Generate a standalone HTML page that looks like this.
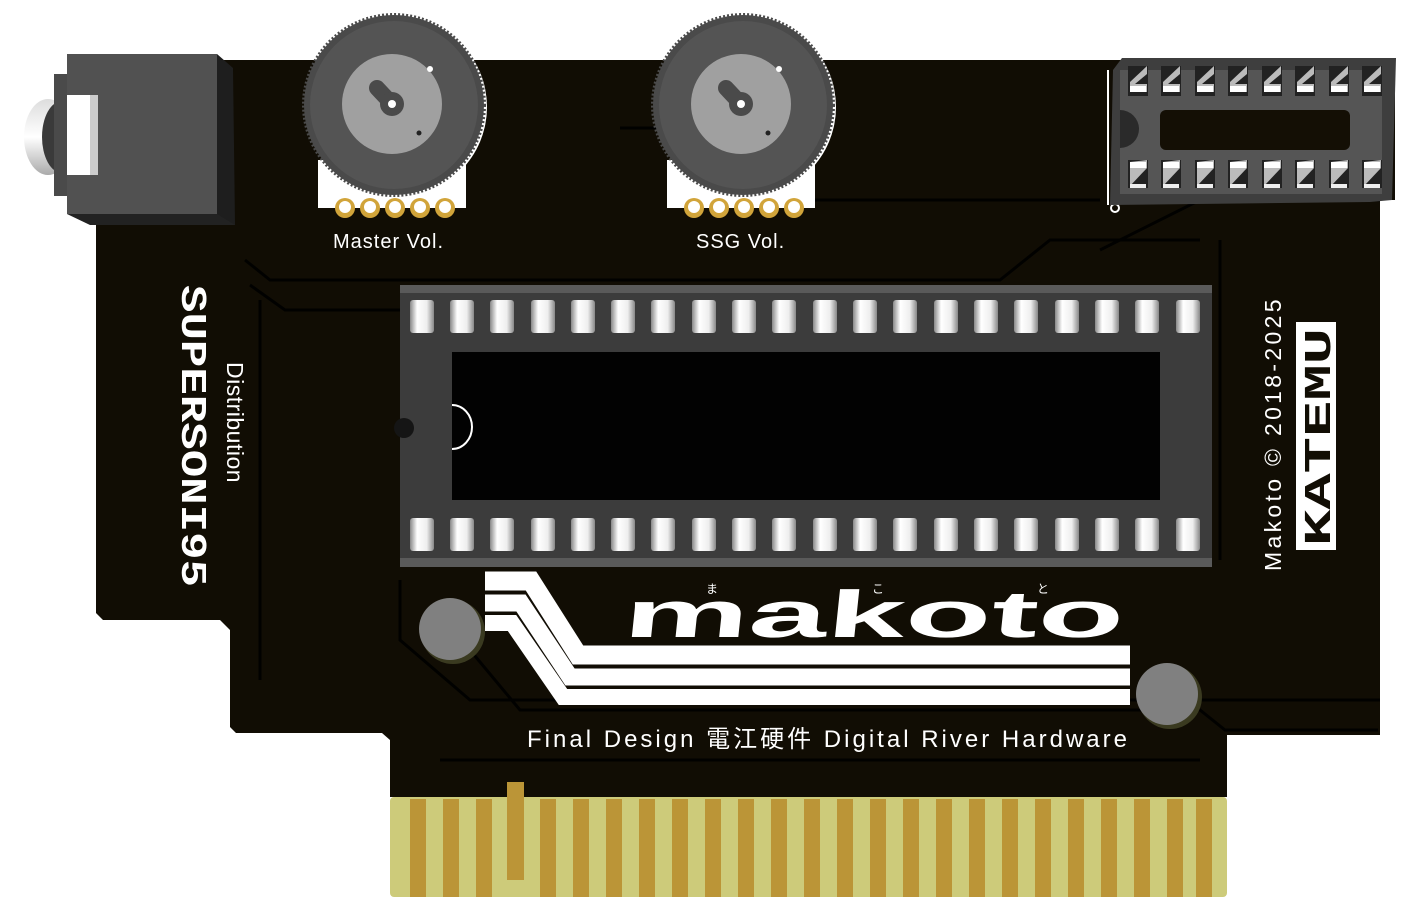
<!DOCTYPE html>
<html><head><meta charset="utf-8"><style>
html,body{margin:0;padding:0;background:#fff;width:1418px;height:915px;overflow:hidden}
svg{display:block}
</style></head><body>
<svg width="1418" height="915" viewBox="0 0 1418 915" xmlns="http://www.w3.org/2000/svg" font-family="Liberation Sans, sans-serif">
<defs>
<linearGradient id="pin" x1="0" x2="1">
<stop offset="0" stop-color="#888"/><stop offset="0.3" stop-color="#fff"/><stop offset="0.7" stop-color="#eee"/><stop offset="1" stop-color="#888"/></linearGradient>
<linearGradient id="jk" x1="0" y1="0" x2="0" y2="1"><stop offset="0" stop-color="#ddd"/><stop offset="0.5" stop-color="#fff"/><stop offset="1" stop-color="#aaa"/></linearGradient>
</defs>
<polygon fill="#110d04" points="96,60 1395,60 1395,200 1380,200 1380,735 1227,735 1227,797 390,797 390,740 382,733 236,733 230,727 230,630 220,620 103,620 96,613"/>
<g stroke="#000" stroke-width="3" fill="none" opacity="0.9">
<polyline points="250,285 285,310 900,310"/>
<polyline points="245,260 270,280 1000,280 1050,240 1200,240"/>
<polyline points="260,300 260,680"/>
<polyline points="400,580 400,640 470,700 1380,700"/>
<polyline points="470,650 520,710 1200,710 1225,730 1378,730"/>
<polyline points="620,128 700,128 780,200 1100,200"/>
<polyline points="1100,250 1200,200 1380,200"/>
<polyline points="1220,240 1220,560"/>
<polyline points="440,760 1200,760"/>
</g>
<rect x="390" y="797" width="837" height="100" fill="#cdcb7a" rx="4"/>
<g fill="#bb9537">
<rect x="410" y="799" width="16" height="98"/><rect x="443" y="799" width="16" height="98"/><rect x="476" y="799" width="16" height="98"/>
<rect x="507" y="782" width="17" height="98"/>
<rect x="540" y="799" width="16" height="98"/><rect x="573" y="799" width="16" height="98"/><rect x="606" y="799" width="16" height="98"/><rect x="639" y="799" width="16" height="98"/><rect x="672" y="799" width="16" height="98"/><rect x="705" y="799" width="16" height="98"/><rect x="738" y="799" width="16" height="98"/><rect x="771" y="799" width="16" height="98"/><rect x="804" y="799" width="16" height="98"/><rect x="837" y="799" width="16" height="98"/><rect x="870" y="799" width="16" height="98"/><rect x="903" y="799" width="16" height="98"/><rect x="936" y="799" width="16" height="98"/><rect x="969" y="799" width="16" height="98"/><rect x="1002" y="799" width="16" height="98"/><rect x="1035" y="799" width="16" height="98"/><rect x="1068" y="799" width="16" height="98"/><rect x="1101" y="799" width="16" height="98"/><rect x="1134" y="799" width="16" height="98"/><rect x="1167" y="799" width="16" height="98"/><rect x="1196" y="799" width="16" height="98"/>
</g>
<ellipse cx="48" cy="137" rx="24" ry="38" fill="url(#jk)"/>
<ellipse cx="62" cy="137" rx="20" ry="36" fill="#3a3a3a"/>
<rect x="54" y="74" width="14" height="122" fill="#4a4a4a"/>
<rect x="67" y="54" width="150" height="160" fill="#515151"/>
<polygon points="217,54 233,68 235,225 217,225" fill="#1e1e1e"/>
<polygon points="67,214 217,214 235,225 90,225" fill="#222"/>
<rect x="67" y="95" width="31" height="80" fill="#fff"/>
<rect x="90" y="95" width="8" height="80" fill="#ccc"/>
<g id="pot">
<rect x="318" y="160" width="148" height="48" fill="#fff"/>
<g fill="#d1a43a"><circle cx="345" cy="208" r="10"/><circle cx="370" cy="208" r="10"/><circle cx="395" cy="208" r="10"/><circle cx="420" cy="208" r="10"/><circle cx="445" cy="208" r="10"/></g>
<g fill="#fff"><circle cx="345" cy="207" r="6"/><circle cx="370" cy="207" r="6"/><circle cx="395" cy="207" r="6"/><circle cx="420" cy="207" r="6"/><circle cx="445" cy="207" r="6"/></g>
<circle cx="397" cy="107" r="90" fill="#fff"/>
<circle cx="394" cy="105" r="90" fill="#4a4a4a" stroke="#4a4a4a" stroke-width="4" stroke-dasharray="2 2"/>
<circle cx="394" cy="105" r="84" fill="#545454"/>
<circle cx="392" cy="104" r="50" fill="#a0a0a0"/>
<line x1="377" y1="88" x2="392" y2="104" stroke="#4a4a4a" stroke-width="16" stroke-linecap="round"/>
<circle cx="392" cy="104" r="12" fill="#4a4a4a"/>
<circle cx="392" cy="104" r="4" fill="#fff"/>
<circle cx="430" cy="69" r="3" fill="#fff"/><circle cx="419" cy="133" r="2.5" fill="#222"/>
</g>
<use href="#pot" transform="translate(349,0)"/>
<text x="333" y="248" fill="#fff" font-size="20" letter-spacing="1">Master Vol.</text>
<text x="696" y="248" fill="#fff" font-size="20" letter-spacing="1">SSG Vol.</text>
<line x1="1108" y1="70" x2="1108" y2="205" stroke="#fff" stroke-width="2"/>
<circle cx="1115" cy="208" r="4" fill="none" stroke="#fff" stroke-width="2"/>
<polygon points="1122,58 1396,58 1392,200 1370,202 1110,205 1113,70" fill="#3e3e3e"/>
<rect x="1120" y="70" width="262" height="124" fill="#555"/>
<rect x="1160" y="110" width="190" height="40" rx="6" fill="#140f05"/>
<path d="M1120,110 a18,18 0 0 1 0,38" fill="#2a2a2a"/>
<g id="dp"><rect x="1128" y="66" width="20" height="30" fill="#222"/><polygon points="1130,82 1147,66 1147,74 1135,84 1147,84 1147,92 1130,92" fill="#bbb"/><rect x="1130" y="86" width="16" height="6" fill="#fff"/></g>
<use href="#dp" x="33"/><use href="#dp" x="67"/><use href="#dp" x="100"/><use href="#dp" x="134"/><use href="#dp" x="167"/><use href="#dp" x="201"/><use href="#dp" x="234"/>
<g id="dp2"><rect x="1128" y="160" width="20" height="28" fill="#222"/><polygon points="1130,186 1147,168 1147,160 1130,162" fill="#bbb"/><rect x="1130" y="162" width="16" height="6" fill="#fff"/><rect x="1130" y="184" width="16" height="4" fill="#eee"/></g>
<use href="#dp2" x="33"/><use href="#dp2" x="67"/><use href="#dp2" x="100"/><use href="#dp2" x="134"/><use href="#dp2" x="167"/><use href="#dp2" x="201"/><use href="#dp2" x="234"/>
<rect x="400" y="285" width="812" height="282" fill="#3c3c3c"/>
<rect x="400" y="285" width="812" height="8" fill="#5a5a5a"/>
<rect x="400" y="558" width="812" height="9" fill="#5a5a5a"/>
<rect x="452" y="352" width="708" height="148" fill="#020202"/>
<path d="M452,405 a20,22 0 0 1 0,44" fill="none" stroke="#fff" stroke-width="2"/>
<circle cx="404" cy="428" r="10" fill="#151515"/>
<g id="pr" fill="url(#pin)"><rect x="410" y="300" width="24" height="33" rx="3"/><rect x="450" y="300" width="24" height="33" rx="3"/><rect x="490" y="300" width="24" height="33" rx="3"/><rect x="531" y="300" width="24" height="33" rx="3"/><rect x="571" y="300" width="24" height="33" rx="3"/><rect x="611" y="300" width="24" height="33" rx="3"/><rect x="651" y="300" width="24" height="33" rx="3"/><rect x="692" y="300" width="24" height="33" rx="3"/><rect x="732" y="300" width="24" height="33" rx="3"/><rect x="772" y="300" width="24" height="33" rx="3"/><rect x="813" y="300" width="24" height="33" rx="3"/><rect x="853" y="300" width="24" height="33" rx="3"/><rect x="893" y="300" width="24" height="33" rx="3"/><rect x="934" y="300" width="24" height="33" rx="3"/><rect x="974" y="300" width="24" height="33" rx="3"/><rect x="1014" y="300" width="24" height="33" rx="3"/><rect x="1055" y="300" width="24" height="33" rx="3"/><rect x="1095" y="300" width="24" height="33" rx="3"/><rect x="1135" y="300" width="24" height="33" rx="3"/><rect x="1176" y="300" width="24" height="33" rx="3"/></g>
<use href="#pr" y="218"/>
<circle cx="453" cy="632" r="32" fill="#3a3a20"/><circle cx="450" cy="629" r="31" fill="#808080"/>
<circle cx="1170" cy="697" r="32" fill="#3a3a20"/><circle cx="1167" cy="694" r="31" fill="#808080"/>
<g fill="none" stroke="#fff" stroke-linejoin="miter">
<polyline points="485,581 531,581 578,655 1130,655" stroke-width="19"/>
<polyline points="485,603 521,603 570,677 1130,677" stroke-width="17"/>
<polyline points="485,623 512,623 563,697 1130,697" stroke-width="16"/>
</g>
<text x="0" y="0" fill="#fff" font-size="66" font-weight="bold" textLength="500" lengthAdjust="spacingAndGlyphs" transform="translate(622,637) skewX(-6)">makoto</text>
<g fill="#fff" font-size="12" font-family="Noto Sans CJK JP, sans-serif"><text x="706" y="593">ま</text><text x="872" y="593">こ</text><text x="1037" y="593">と</text></g>
<text x="527" y="747" fill="#fff" font-size="24" textLength="600" lengthAdjust="spacing" font-family="Liberation Sans, Noto Sans CJK JP, sans-serif">Final Design  電江硬件  Digital River Hardware</text>
<text transform="translate(182,285) rotate(90)" fill="#fff" font-size="36" font-weight="bold" textLength="302" lengthAdjust="spacingAndGlyphs" font-family="Liberation Mono, monospace">SUPERSONI95</text>
<text transform="translate(227,362) rotate(90)" fill="#fff" font-size="23" letter-spacing="0.5">Distribution</text>
<text transform="translate(1281,571) rotate(-90)" fill="#fff" font-size="23" letter-spacing="0.5" textLength="272" lengthAdjust="spacing">Makoto © 2018-2025</text>
<rect x="1296" y="322" width="40" height="228" fill="#fff"/>
<text transform="translate(1330,546) rotate(-90)" fill="#110d04" font-size="38" font-weight="bold" textLength="218" lengthAdjust="spacingAndGlyphs" font-family="Liberation Mono, monospace">KATEMU</text>
</svg>
</body></html>
